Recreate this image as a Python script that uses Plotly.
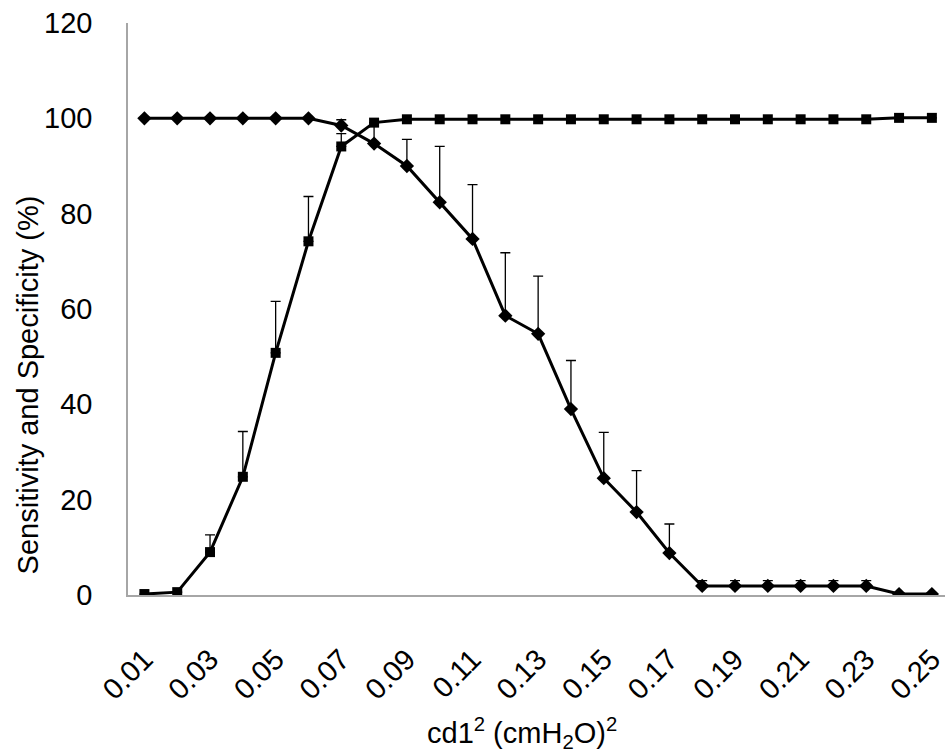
import plotly.graph_objects as go

# Cut-off values of cd1^2 (cmH2O)^2
cutoffs = [f"{v / 100:.2f}" for v in range(1, 26)]
tick_labels = cutoffs[::2]

# Sensitivity (%) and its upper error
sensitivity = [100, 100, 100, 100, 100, 100, 98.5, 94.7, 90.0, 82.4, 74.7, 58.6, 54.8,
               39.0, 24.5, 17.4, 8.8, 1.9, 1.9, 1.9, 1.9, 1.9, 1.9, 0.2, 0.2]
sensitivity_err = [0, 0, 0, 0, 0, 0, 1.2, 4.4, 5.6, 11.7, 11.4, 13.2, 12.1,
                   10.2, 9.6, 8.7, 6.1, 1.1, 1.1, 1.1, 1.1, 1.1, 1.1, 0, 0]

# Specificity (%) and its upper error
specificity = [0.2, 0.6, 9.0, 24.8, 50.8, 74.2, 94.1, 99.1, 99.8, 99.8, 99.8, 99.8, 99.8,
               99.8, 99.8, 99.8, 99.8, 99.8, 99.8, 99.8, 99.8, 99.8, 99.8, 100.1, 100.1]
specificity_err = [0, 0, 3.6, 9.5, 10.8, 9.4, 2.7, 0, 0, 0, 0, 0, 0,
                   0, 0, 0, 0, 0, 0, 0, 0, 0, 0, 0, 0]

FONT = "Liberation Sans, Arial, sans-serif"
FS = 29
zeros = [0] * len(cutoffs)

fig = go.Figure()
fig.add_trace(go.Scatter(
    x=cutoffs, y=specificity, mode="lines+markers", name="Specificity",
    line=dict(color="black", width=3),
    marker=dict(symbol="square", size=10, color="black"),
    error_y=dict(type="data", symmetric=False, array=specificity_err, arrayminus=zeros,
                 color="black", thickness=1.3, width=5),
))
fig.add_trace(go.Scatter(
    x=cutoffs, y=sensitivity, mode="lines+markers", name="Sensitivity",
    line=dict(color="black", width=3),
    marker=dict(symbol="diamond", size=11, color="black"),
    error_y=dict(type="data", symmetric=False, array=sensitivity_err, arrayminus=zeros,
                 color="black", thickness=1.3, width=5),
))

fig.update_layout(
    width=945, height=753,
    margin=dict(l=128, r=0, t=23, b=158),
    paper_bgcolor="white", plot_bgcolor="white",
    showlegend=False,
    font=dict(family=FONT, size=FS, color="black"),
    xaxis=dict(
        type="category", categoryorder="array", categoryarray=cutoffs,
        range=[-0.5, 24.4],
        tickmode="array", tickvals=tick_labels, ticktext=tick_labels,
        tickangle=-45, ticks="", ticklabelstandoff=34,
        showgrid=False, zeroline=False,
        showline=True, linecolor="#a6a6a6", linewidth=1.5,
        tickfont=dict(family=FONT, size=FS),
    ),
    yaxis=dict(
        range=[0, 120], tickmode="array", tickvals=list(range(0, 121, 20)),
        ticks="", ticklabelstandoff=28, showgrid=False, zeroline=False,
        showline=True, linecolor="#a6a6a6", linewidth=1.5,
        tickfont=dict(family=FONT, size=FS),
    ),
    annotations=[
        dict(text="Sensitivity and Specificity (%)", textangle=-90,
             xref="paper", yref="paper", x=-0.122, y=0.367,
             xanchor="center", yanchor="middle", showarrow=False,
             font=dict(family=FONT, size=FS)),
        dict(text="cd1<sup>2</sup> (cmH<sub>2</sub>O)<sup>2</sup>",
             xref="paper", yref="paper", x=0.482, y=-0.241,
             xanchor="center", yanchor="middle", showarrow=False,
             font=dict(family=FONT, size=FS)),
    ],
)

fig.write_html("out.html")
